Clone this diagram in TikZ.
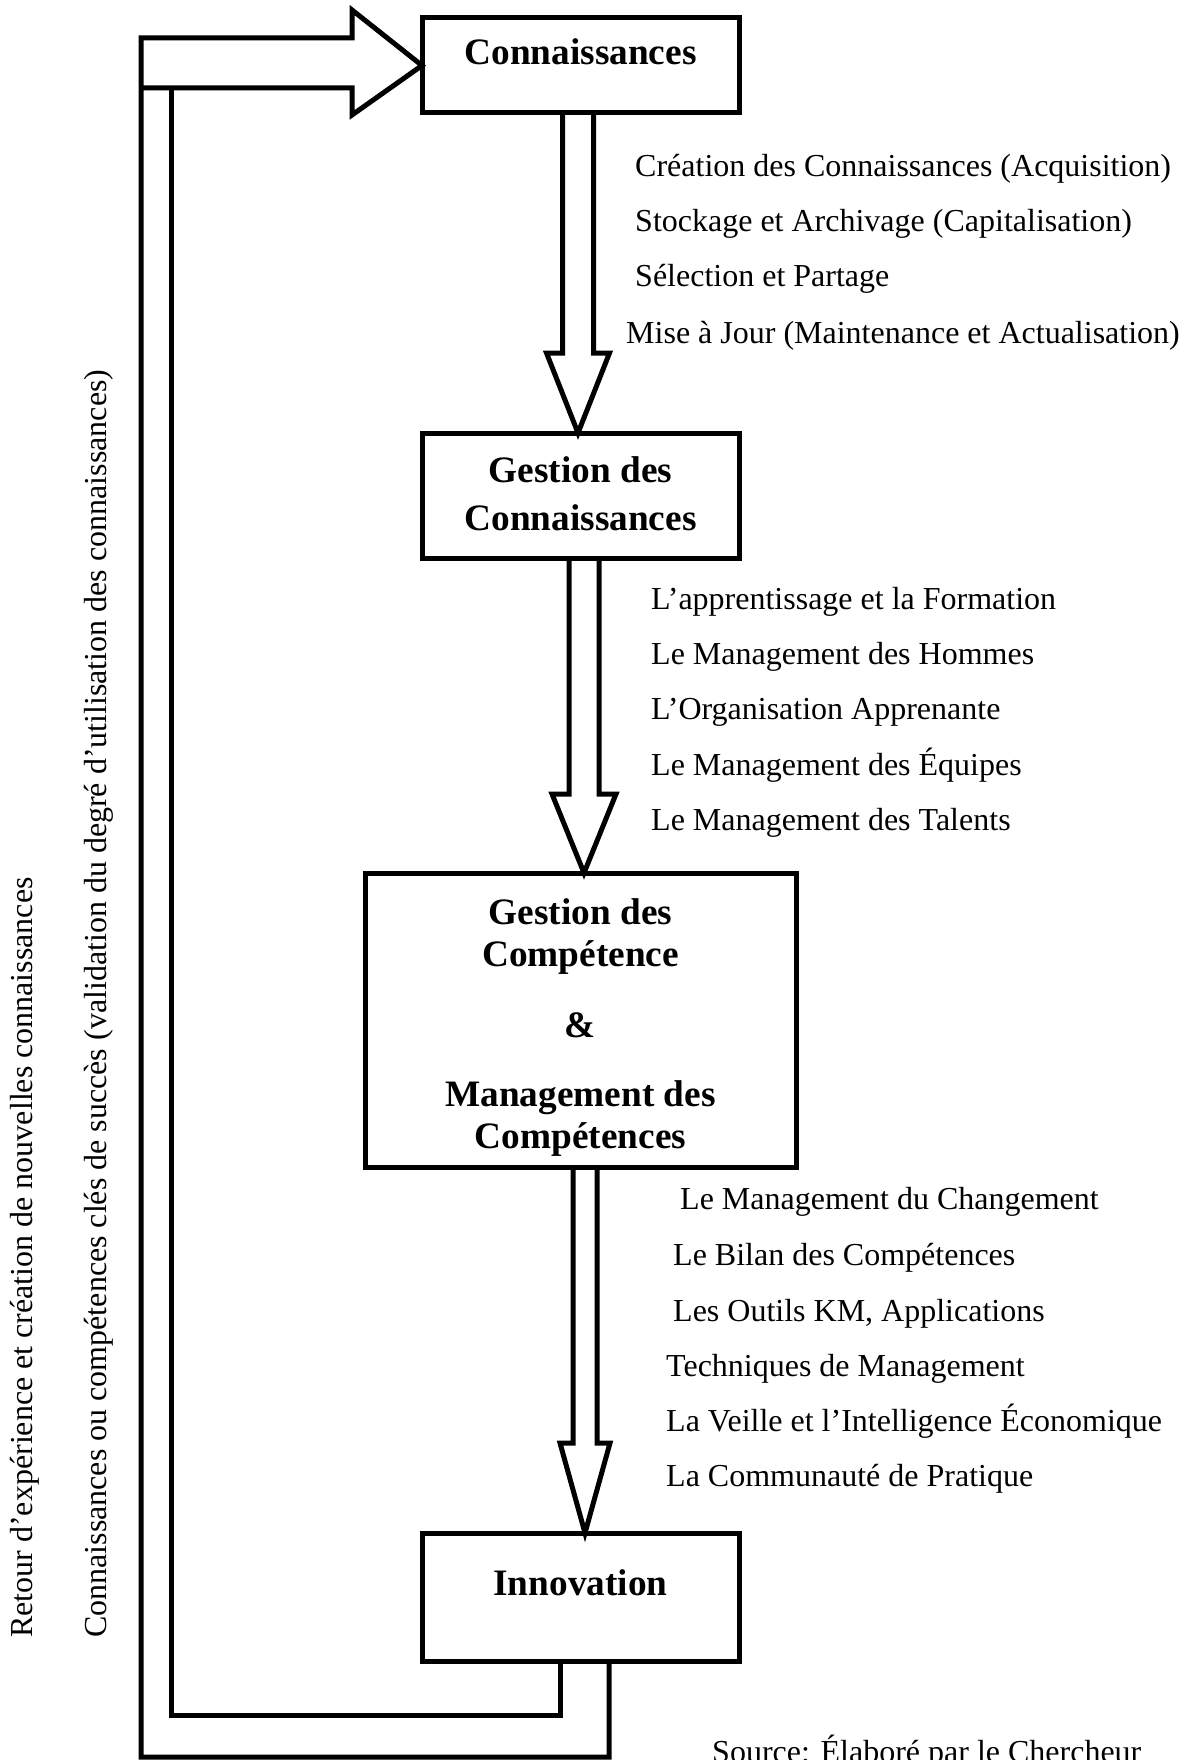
\documentclass[tikz,border=0pt]{standalone}
\usepackage{fontspec}
\setmainfont{Liberation Serif}
\usetikzlibrary{calc}

\tikzset{
  box/.style={draw, line width=5pt, outer sep=0pt, inner sep=0pt, rectangle},
  title/.style={font=\fontsize{37.3}{44}\selectfont\bfseries, anchor=base, inner sep=0pt},
  item/.style={font=\fontsize{32}{38}\selectfont, anchor=base west, inner sep=0pt},
  side/.style={font=\fontsize{32}{38}\selectfont, anchor=base west, inner sep=0pt, rotate=90},
  blk/.style={draw, line width=5pt, line join=miter, line cap=butt},
}

% hollow block arrow pointing down from #1 to #2
% #3 centre offset, #4 shaft half width, #5 head half width, #6 head length
\newcommand\blockdown[6]{%
  \draw[blk] ($(#1.south)+(#3-#4,0)$) -- ($(#2.north)+(#3-#4,-#6)$)
    -- ($(#2.north)+(#3-#5,-#6)$) -- ($(#2.north)+(#3,0)$)
    -- ($(#2.north)+(#3+#5,-#6)$) -- ($(#2.north)+(#3+#4,-#6)$)
    -- ($(#1.south)+(#3+#4,0)$);}

\begin{document}
\begin{tikzpicture}[x=1pt,y=-1pt]
\useasboundingbox (0,0) rectangle (1186,1760);
\fill[white] (0,0) rectangle (1186,1760);

% boxes
\node[box, minimum width=317, minimum height=95]  (conn)  at (580.5,65.5)  {};
\node[box, minimum width=317, minimum height=125] (gc)    at (580.5,495.5) {};
\node[box, minimum width=431, minimum height=294] (gcomp) at (580.5,1020)  {};
\node[box, minimum width=317, minimum height=128] (inv)   at (580.5,1597)  {};

% box titles
\node[title] (conn-t)   at (580.5,65)   {Connaissances};
\node[title] (gc-t1)    at (580.5,482)  {Gestion des};
\node[title] (gc-t2)    at (580.5,530)  {Connaissances};
\node[title] (gcomp-t1) at (580.5,924)  {Gestion des};
\node[title] (gcomp-t2) at (580.5,966)  {Compétence};
\node[title] (gcomp-t3) at (580.5,1037) {\&};
\node[title] (gcomp-t4) at (580.5,1106) {Management des};
\node[title] (gcomp-t5) at (580.5,1148) {Compétences};
\node[title] (inv-t)    at (580.5,1595) {Innovation};

% down arrows between the boxes
\blockdown{conn}{gc}{-2.5}{15.5}{31.5}{80}
\blockdown{gc}{gcomp}{3.5}{15}{32}{79}
\blockdown{gcomp}{inv}{4.5}{12}{25}{90}

% feedback loops back to the first box
\draw[blk] ($(inv.south)+(28.5,0)$) -- ($(inv.south)+(28.5,96)$) -- (141,1757)
  -- (141,38) -- ($(conn.west)+(-70,-27.5)$) -- ($(conn.west)+(-70,-55.5)$)
  -- (conn.west) -- ($(conn.west)+(-70,49.5)$) -- ($(conn.west)+(-70,22.5)$)
  -- (141,88);
\draw[blk] ($(inv.south)+(-20.5,0)$) -- ($(inv.south)+(-20.5,54)$) -- (171,1715)
  -- (171,88);

% activities, first stage
\node[item] (a1) at (635,177) {Création des Connaissances (Acquisition)};
\node[item] (a2) at (635,232) {Stockage et Archivage (Capitalisation)};
\node[item] (a3) at (635,287) {Sélection et Partage};
\node[item] (a4) at (626,343) {Mise à Jour (Maintenance et Actualisation)};

% activities, second stage
\node[item] (b1) at (651,609) {L’apprentissage et la Formation};
\node[item] (b2) at (651,664) {Le Management des Hommes};
\node[item] (b3) at (651,719) {L’Organisation Apprenante};
\node[item] (b4) at (651,775) {Le Management des Équipes};
\node[item] (b5) at (651,830) {Le Management des Talents};

% activities, third stage
\node[item] (c1) at (680,1209) {Le Management du Changement};
\node[item] (c2) at (673,1265) {Le Bilan des Compétences};
\node[item] (c3) at (673,1321) {Les Outils KM, Applications};
\node[item] (c4) at (666,1376) {Techniques de Management};
\node[item] (c5) at (666,1431) {La Veille et l’Intelligence Économique};
\node[item] (c6) at (666,1486) {La Communauté de Pratique};

% loop captions
\node[side] (side1) at (32,1638) {Retour d’expérience et création de nouvelles connaissances};
\node[side] (side2) at (106,1638) {Connaissances ou compétences clés de succès (validation du degré d’utilisation des connaissances)};

% source
\node[item] (src) at (712,1762) {Source: Élaboré par le Chercheur};
\end{tikzpicture}
\end{document}
